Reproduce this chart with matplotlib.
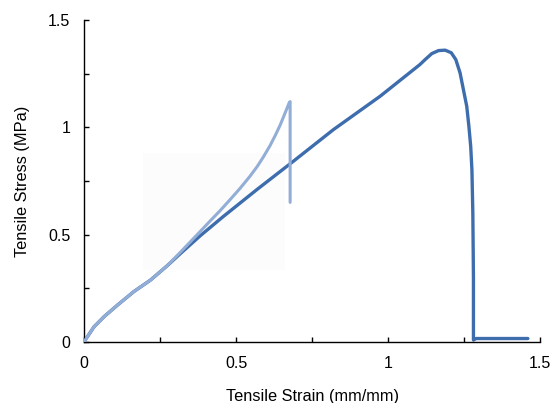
import numpy as np
import matplotlib
matplotlib.use("Agg")
import matplotlib.pyplot as plt
from matplotlib.ticker import MultipleLocator
from matplotlib.patches import Rectangle

plt.rcParams['font.family'] = ['Liberation Sans', 'DejaVu Sans']

# sample 1 (dark) - stress/strain
strain_a = [0, 0.033, 0.066, 0.11, 0.164, 0.219, 0.274, 0.316, 0.349, 0.382, 0.458,
            0.568, 0.667, 0.678, 0.82, 0.974, 1.105, 1.122, 1.144, 1.166, 1.188,
            1.208, 1.223, 1.237, 1.248, 1.259, 1.266, 1.272, 1.276, 1.279, 1.281,
            1.281, 1.29, 1.46]
stress_a = [0, 0.07, 0.117, 0.171, 0.234, 0.288, 0.355, 0.41, 0.452, 0.494, 0.584,
            0.709, 0.818, 0.83, 0.989, 1.145, 1.293, 1.316, 1.344, 1.358, 1.36,
            1.348, 1.316, 1.254, 1.176, 1.098, 1.005, 0.911, 0.802, 0.6, 0.3,
            0.008, 0.015, 0.015]

# sample 2 (light)
strain_b = [0, 0.033, 0.066, 0.11, 0.164, 0.219, 0.274, 0.316, 0.349, 0.382, 0.414,
            0.448, 0.48, 0.513, 0.546, 0.57, 0.59, 0.612, 0.63, 0.645, 0.66, 0.675,
            0.678, 0.678]
stress_b = [0, 0.07, 0.117, 0.171, 0.234, 0.288, 0.355, 0.416, 0.465, 0.514, 0.562,
            0.612, 0.662, 0.715, 0.772, 0.818, 0.862, 0.915, 0.965, 1.01, 1.062, 1.115,
            1.12, 0.65]

fig = plt.figure(figsize=(5.55, 4.03), dpi=100)
ax = fig.add_axes([0.1514, 0.152, 0.8216, 0.798])

# faint grey box left in the original image
ax.add_patch(Rectangle((0.194, 0.335), 0.467, 0.547, color='#fcfcfc', lw=0, zorder=0))

ax.plot(strain_a, stress_a, color='#3e6dae', lw=2.4, solid_capstyle='round',
        solid_joinstyle='round', zorder=2)
ax.plot(strain_b, stress_b, color='#93aed6', lw=2.2, solid_capstyle='round',
        solid_joinstyle='round', zorder=3)

ax.set_xlim(0, 1.5)
ax.set_ylim(0, 1.5)
ax.xaxis.set_major_locator(MultipleLocator(0.5))
ax.yaxis.set_major_locator(MultipleLocator(0.5))
ax.xaxis.set_minor_locator(MultipleLocator(0.25))
ax.yaxis.set_minor_locator(MultipleLocator(0.25))
ax.xaxis.set_major_formatter(plt.FuncFormatter(lambda v, p: f"{v:g}"))
ax.yaxis.set_major_formatter(plt.FuncFormatter(lambda v, p: f"{v:g}"))

for s in ['top', 'right']:
    ax.spines[s].set_visible(False)
for s in ['left', 'bottom']:
    ax.spines[s].set_linewidth(1.0)

ax.tick_params(which='both', direction='in', length=3.5, width=1.0, labelsize=11.5, pad=10)

ax.set_xlabel('Tensile Strain (mm/mm)', fontsize=11.8, labelpad=13)
ax.set_ylabel('Tensile Stress (MPa)', fontsize=11.8, labelpad=13)

fig.savefig('out.png', dpi=100)
